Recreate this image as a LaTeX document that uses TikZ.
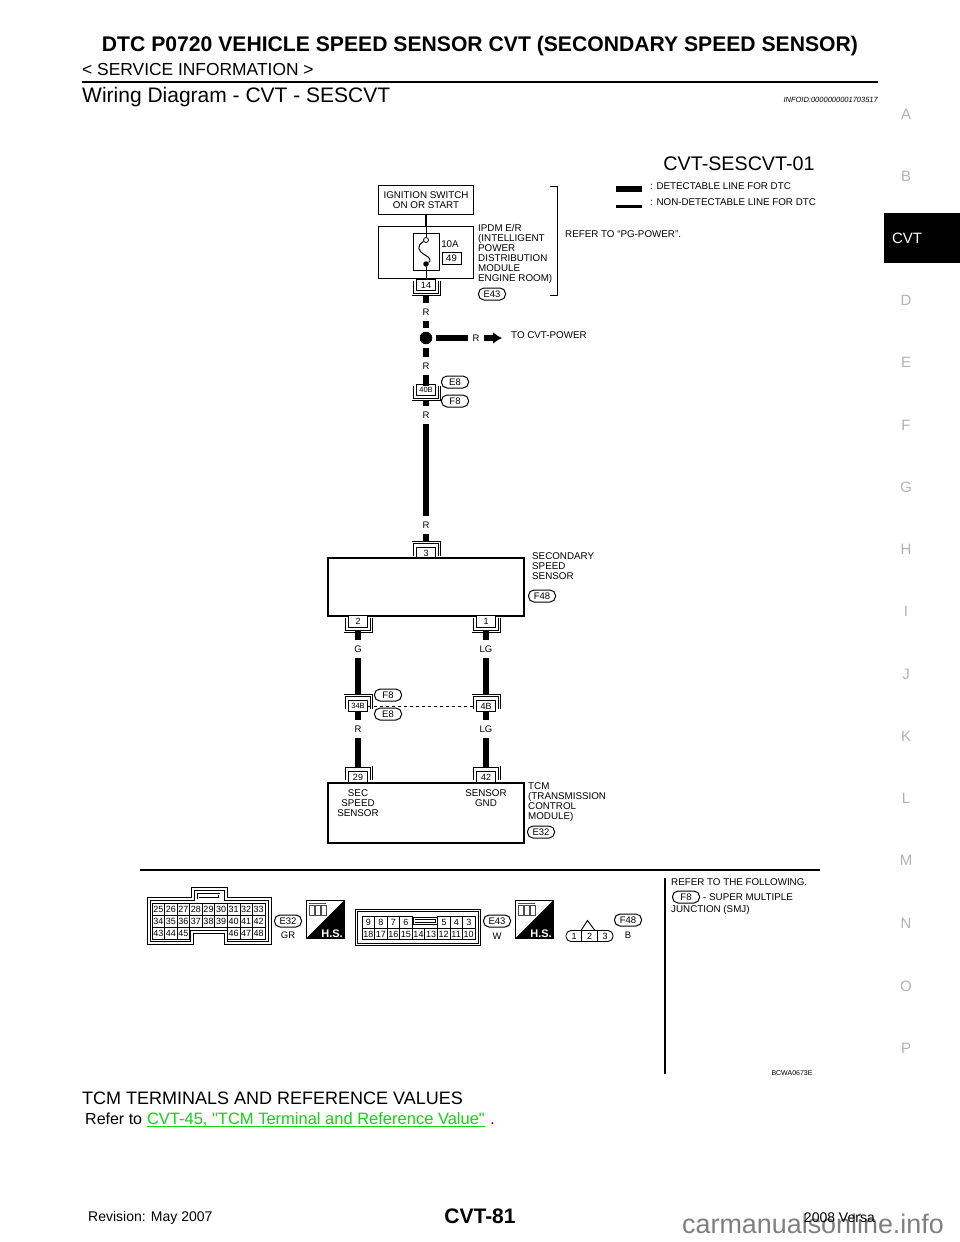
\documentclass[tikz,border=0pt]{standalone}
\usepackage{fontspec}
\setmainfont{Liberation Sans}
\newfontfamily\linkfont{Liberation Sans}
\usetikzlibrary{arrows.meta}
\definecolor{linkgreen}{RGB}{20,210,20}

% connector pin with a double bracket below it
\newcommand{\termcup}[4]{%
  \node[termhold] (#1) at (#2,{#3+3}) {};
  \draw[termline] (#1.north west) -- (#1.south west) -- (#1.south east) -- (#1.north east);
  \node[termbox] (#1-pin) at (#2,#3) {#4};
}
% connector pin with a double bracket above it
\newcommand{\termcap}[4]{%
  \node[termhold] (#1) at (#2,{#3-4}) {};
  \draw[termline] (#1.south west) -- (#1.north west) -- (#1.north east) -- (#1.south east);
  \node[termbox] (#1-pin) at (#2,#3) {#4};
}
% harness service mark
\newcommand{\hsmark}[3]{%
  \node[hsbox] (#1) at (#2,#3) {};
  \fill (#1.north east) -- (#1.south east) -- (#1.south west) -- cycle;
  \node[hstext,anchor=south east] (#1-text) at (#1.south east) {H.S.};
  \foreach \Value in {0,6,12}
    \draw[line width=.7pt,black!70] ({#2-16+\Value},{#3-14.5}) rectangle ++(5,10);
  \draw[line width=1pt,black!70] ({#2-16},{#3-16}) -- ({#2+1},{#3-16});
}

\begin{document}
\begin{tikzpicture}[
x=1pt,y=-1pt,
wire/.style={line width=5.8pt},
thinwire/.style={line width=2.5pt},
lead/.style={line width=1pt},
textsmall/.style={inner sep=0pt,align=left,font=\fontsize{9.8}{10}\selectfont},
wirelabel/.style={inner sep=0pt,minimum height=17pt,font=\fontsize{9.5}{10}\selectfont},
boxnode/.style={draw,line width=1.2pt,inner sep=0pt},
oval/.style={draw,line width=1pt,rounded corners=5.5pt,inner sep=0pt,minimum width=27pt,minimum height=12pt,font=\fontsize{9.5}{10}\selectfont},
termbox/.style={draw,fill=white,line width=.8pt,inner sep=0pt,minimum width=19pt,minimum height=11.5pt,font=\fontsize{9}{10}\selectfont},
termhold/.style={inner sep=0pt,minimum width=26pt,minimum height=13pt},
termline/.style={draw,line width=.7pt,double,double distance=1.2pt},
pincell/.style={draw,line width=.6pt,inner sep=0pt,minimum width=12.55pt,minimum height=11.5pt,font=\fontsize{9}{10}\selectfont},
hsbox/.style={draw,line width=.8pt,inner sep=0pt,minimum size=38pt},
hstext/.style={text=white,inner sep=1.5pt,font=\bfseries\fontsize{11}{11}\selectfont},
tab/.style={text=black!30,inner sep=0pt,font=\fontsize{15}{15}\selectfont}
]
\useasboundingbox (0,0) rectangle (960,1242);

% page head
\node[inner sep=0pt,font=\bfseries\fontsize{21.15}{22}\selectfont] (title) at (480,46) {DTC P0720 VEHICLE SPEED SENSOR CVT (SECONDARY SPEED SENSOR)};
\node[anchor=west,inner sep=0pt,font=\fontsize{17.4}{18}\selectfont] (section) at (82,70) {< SERVICE INFORMATION >};
\draw[line width=2.5pt] (82,82) -- (878,82);
\node[anchor=west,inner sep=0pt,font=\fontsize{21}{22}\selectfont] (heading) at (82,97.5) {Wiring Diagram - CVT - SESCVT};
\node[anchor=east,inner sep=0pt,font=\itshape\fontsize{7.5}{8}\selectfont] (infoid) at (878,100) {INFOID:0000000001703517};

% side tabs
\foreach \Value/\Ypos in {A/114,B/176,D/300,E/362,F/425,G/487,H/549,I/611,J/674,K/736,L/798,M/860,N/923,O/986,P/1048}
  \node[tab] (tab\Value) at (906,\Ypos) {\Value};
\node[fill=black,text=white,inner sep=0pt,minimum width=76pt,minimum height=50pt,font=\fontsize{15}{15}\selectfont] (tabcvt) at (922,238) {};
\node[text=white,inner sep=0pt,font=\fontsize{15}{15}\selectfont] (tabcvttext) at (907,238) {CVT};

% legend
\node[inner sep=0pt,font=\fontsize{19.7}{21}\selectfont] (code) at (739,164) {CVT-SESCVT-01};
\node[anchor=west,inner sep=0pt,font=\fontsize{9.8}{10}\selectfont] (legendA) at (650,186) {: DETECTABLE LINE FOR DTC};
\node[anchor=west,inner sep=0pt,font=\fontsize{9.8}{10}\selectfont] (legendB) at (650,202) {: NON-DETECTABLE LINE FOR DTC};
\coordinate (legendAa) at (616,189);
\coordinate (legendAb) at (642,189);
\coordinate (legendBa) at (616,206);
\coordinate (legendBb) at (642,206);
\draw[wire] (legendAa) -- (legendAb);
\draw[line width=3pt] (legendBa) -- (legendBb);

% power supply
\node[boxnode,minimum width=95pt,minimum height=29pt,align=center,font=\fontsize{9.8}{10}\selectfont] (ign) at (426,200) {IGNITION SWITCH\\ON OR START};
\node[boxnode,minimum width=95pt,minimum height=52pt] (ipdm) at (426,252.5) {};
\node[draw,line width=1pt,inner sep=0pt,minimum width=26pt,minimum height=37pt] (fuse) at (426,251.5) {};
\node[draw,fill=white,circle,line width=.8pt,inner sep=0pt,minimum size=5pt] (fuseA) at (426,240) {};
\node[fill=black,circle,inner sep=0pt,minimum size=5.5pt] (fuseB) at (426,264) {};
\node[inner sep=0pt,font=\fontsize{9.8}{10}\selectfont] (amp) at (450,244) {10A};
\node[draw,line width=.9pt,inner sep=0pt,minimum width=19pt,minimum height=12pt,font=\fontsize{9.5}{10}\selectfont] (fuseno) at (451.5,258) {49};
\node[anchor=north west,textsmall] (ipdmtext) at (478,224.5) {IPDM E/R\\(INTELLIGENT\\POWER\\DISTRIBUTION\\MODULE\\ENGINE ROOM)};
\node[oval] (e43a) at (492,294) {E43};
\node[anchor=west,textsmall] (refer) at (565,234) {REFER TO “PG-POWER”.};
\coordinate (brA) at (550,186);
\coordinate (brB) at (557,186);
\coordinate (brC) at (557,295);
\coordinate (brD) at (550,295);
\draw[lead] (brA) -- (brB) -- (brC) -- (brD);

\draw[thinwire] (ign) -- (ipdm);
\draw[lead] (ipdm.north) -- (fuseA);
\draw[lead] (fuseA) .. controls (416,246) and (418,251) .. (425,255) .. controls (431,258) and (431,261) .. (fuseB);
\termcup{t14}{426}{285}{14}
\draw[lead] (fuseB) -- (t14-pin);

% red wire from the fuse to the sensor
\node[wirelabel] (r1) at (426,312) {R};
\node[circle,fill=black,inner sep=0pt,minimum size=12.5pt,outer sep=4pt] (joint) at (426,338) {};
\node[wirelabel] (r2) at (426,366) {R};
\termcup{t40}{426}{390}{\fontsize{7.5}{8}\selectfont 40B}
\node[wirelabel] (r3) at (426,415) {R};
\node[wirelabel] (r4) at (426,525) {R};
\termcap{t3}{426}{553}{3}
\draw[wire] (t14) -- (r1);
\draw[wire] (r1) -- (joint);
\draw[wire] (joint) -- (r2);
\draw[wire] (r2) -- (t40);
\draw[wire] (t40) -- (r3);
\draw[wire] (r3) -- (r4);
\draw[wire] (r4) -- (t3);
\node[oval] (e8a) at (455,382) {E8};
\node[oval] (f8a) at (455,401) {F8};

% branch to cvt power
\node[wirelabel,minimum width=16pt] (r5) at (476,338) {R};
\coordinate (tipcvt) at (502,338);
\draw[wire] (joint) -- (r5);
\draw[line width=5.5pt,-{Latex[length=9pt,width=12pt]}] (r5) -- (tipcvt);
\node[anchor=west,textsmall] (cvtpower) at (511,335) {TO CVT-POWER};

% secondary speed sensor
\node[boxnode,minimum width=196pt,minimum height=58pt] (sensor) at (426,587) {};
\node[anchor=north west,textsmall] (sensortext) at (532,552.5) {SECONDARY\\SPEED\\SENSOR};
\node[oval] (f48a) at (542,596) {F48};
\termcup{t2}{358}{621.5}{2}
\termcup{t1}{486}{621.5}{1}
\node[wirelabel] (g1) at (358,649) {G};
\node[wirelabel] (lg1) at (486,649) {LG};
\termcap{t34}{358}{706}{\fontsize{7.5}{8}\selectfont 34B}
\termcap{t4}{486}{706}{4B}
\node[wirelabel] (r6) at (358,729) {R};
\node[wirelabel] (lg2) at (486,729) {LG};
\node[oval] (f8b) at (388,695) {F8};
\node[oval] (e8b) at (388,714) {E8};
\termcap{t29}{358}{777.5}{29}
\termcap{t42}{486}{777.5}{42}
\draw[wire] (t2) -- (g1);
\draw[wire] (g1) -- (t34);
\draw[wire] (t34-pin) -- (r6);
\draw[wire] (r6) -- (t29);
\draw[wire] (t1) -- (lg1);
\draw[wire] (lg1) -- (t4);
\draw[wire] (t4-pin) -- (lg2);
\draw[wire] (lg2) -- (t42);
\draw[line width=1pt,dashed] (t34-pin) -- (t4-pin);

% tcm
\node[boxnode,minimum width=196pt,minimum height=60pt] (tcm) at (426,813) {};
\node[inner sep=0pt,align=center,font=\fontsize{9.8}{9.8}\selectfont] (secspeed) at (358,803) {SEC\\SPEED\\SENSOR};
\node[inner sep=0pt,align=center,font=\fontsize{9.8}{9.8}\selectfont] (sensorgnd) at (486,798) {SENSOR\\GND};
\node[anchor=north west,textsmall] (tcmtext) at (528,782.5) {TCM\\(TRANSMISSION\\CONTROL\\MODULE)};
\node[oval] (e32a) at (541,832) {E32};

% connector views
\coordinate (ruleA) at (140,870);
\coordinate (ruleB) at (820,870);
\draw[line width=1.5pt] (ruleA) -- (ruleB);
\draw[line width=.9pt,fill=white] (147,897) -- (191,897) -- (191,887) -- (227,887) -- (227,897) -- (271.5,897) -- (271.5,944.5) -- (224,944.5) -- (224,933) -- (193,933) -- (193,944.5) -- (147,944.5) -- cycle;
\draw[line width=.9pt] (150,900) -- (194,900) -- (194,890) -- (224,890) -- (224,900) -- (268.5,900) -- (268.5,941.5) -- (227,941.5) -- (227,930) -- (190,930) -- (190,941.5) -- (150,941.5) -- cycle;
\draw[line width=.8pt,double,double distance=.8pt] (198,894) rectangle (219,898);
\foreach \Value [count=\Col from 0] in {25,...,33}
  \node[pincell] (p\Value) at ({158.3+12.55*\Col},909.5) {\Value};
\foreach \Value [count=\Col from 0] in {34,...,42}
  \node[pincell] (p\Value) at ({158.3+12.55*\Col},921.5) {\Value};
\foreach \Value/\Col in {43/0,44/1,45/2,46/6,47/7,48/8}
  \node[pincell] (p\Value) at ({158.3+12.55*\Col},933.5) {\Value};
\node[oval] (e32b) at (288,921) {E32};
\node[inner sep=0pt,font=\fontsize{9.5}{10}\selectfont] (gr) at (288,935) {GR};
\hsmark{hsA}{325}{919.5}

\node[draw,line width=.7pt,double,double distance=1.2pt,inner sep=0pt,minimum width=123pt,minimum height=34pt] (e43view) at (418,927.5) {};
\foreach \Value/\Col in {9/0,8/1,7/2,6/3}
  \node[pincell] (q\Value) at ({368.3+12.55*\Col},922.5) {\Value};
\node[draw,line width=.8pt,double,double distance=.8pt,inner sep=0pt,minimum width=22pt,minimum height=5pt] (slot) at (425,921) {};
\foreach \Value/\Col in {5/0,4/1,3/2}
  \node[pincell] (q\Value) at ({444+12.4*\Col},922.5) {\Value};
\foreach \Value [count=\Col from 0] in {18,17,...,10}
  \node[pincell] (q\Value) at ({368.3+12.55*\Col},934) {\Value};
\node[oval] (e43b) at (497,921) {E43};
\node[inner sep=0pt,font=\fontsize{9.5}{10}\selectfont] (w) at (497,936) {W};
\hsmark{hsB}{534}{919.5}

\node[draw,line width=.9pt,rounded corners=5pt,inner sep=0pt,minimum width=47pt,minimum height=11pt] (f48view) at (589.5,936) {};
\coordinate (peakL) at (581,930.5);
\coordinate (peak) at (587.5,920.5);
\coordinate (peakR) at (595,930.5);
\draw[line width=.9pt] (peakL) -- (peak) -- (peakR);
\node[inner sep=0pt,font=\fontsize{9}{10}\selectfont] (f1) at (574,936) {1};
\node[inner sep=0pt,font=\fontsize{9}{10}\selectfont] (f2) at (589.5,936) {2};
\node[inner sep=0pt,font=\fontsize{9}{10}\selectfont] (f3) at (605,936) {3};
\draw[line width=.9pt] (581.5,930.5) -- (581.5,941.5) (597,930.5) -- (597,941.5);
\node[oval] (f48b) at (628,920) {F48};
\node[inner sep=0pt,font=\fontsize{9.5}{10}\selectfont] (b) at (628,935) {B};

\coordinate (sepA) at (665,878);
\coordinate (sepB) at (665,1074);
\draw[line width=1.5pt] (sepA) -- (sepB);
\node[anchor=west,textsmall] (following) at (671,882) {REFER TO THE FOLLOWING.};
\node[oval] (f8c) at (686,897) {F8};
\node[anchor=west,textsmall] (smj) at (703,897) {- SUPER MULTIPLE};
\node[anchor=west,textsmall] (junction) at (671,910) {JUNCTION (SMJ)};
\node[inner sep=0pt,font=\fontsize{7}{8}\selectfont] (figno) at (792,1073) {BCWA0673E};

% page foot
\node[anchor=west,inner sep=0pt,font=\fontsize{18}{18}\selectfont] (terminals) at (82,1098) {TCM TERMINALS AND REFERENCE VALUES};
\node[anchor=west,inner sep=0pt,font=\fontsize{16}{16}\selectfont] (referto) at (85,1119) {Refer to};
\node[anchor=base west,inner sep=0pt,text=linkgreen,font=\linkfont\fontsize{16.5}{16}\selectfont] (link) at ([xshift=4.5pt]referto.base east) {CVT-45, "TCM Terminal and Reference Value"};
\draw[line width=1pt,linkgreen] ([yshift=-2pt]link.base west) -- ([yshift=-2pt]link.base east);
\node[anchor=base west,inner sep=0pt,font=\fontsize{16}{16}\selectfont] (period) at ([xshift=5pt]link.base east) {.};
\node[anchor=west,inner sep=0pt,font=\fontsize{14}{14}\selectfont] (revision) at (88,1218) {Revision: May 2007};
\node[inner sep=0pt,font=\bfseries\fontsize{21}{21}\selectfont] (pageno) at (480,1216) {CVT-81};
\node[anchor=east,inner sep=0pt,font=\fontsize{14}{14}\selectfont] (versa) at (875,1218) {2008 Versa};
\node[anchor=base west,inner sep=0pt,text=black,text opacity=.5,font=\fontsize{26.9}{27}\selectfont] (watermark) at (682,1233) {carmanualsonline.info};
\end{tikzpicture}
\end{document}
